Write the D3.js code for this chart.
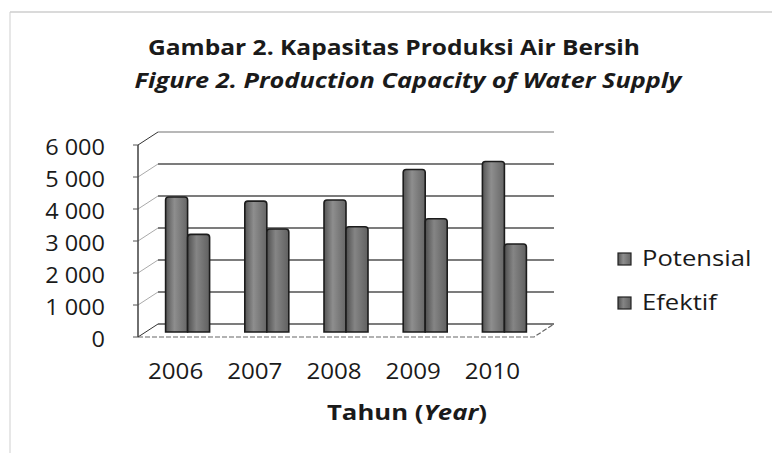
<!DOCTYPE html>
<html>
<head>
<meta charset="utf-8">
<script src="https://cdn.jsdelivr.net/npm/d3@7"></script>
<style>
  body { margin: 0; background: #fff; }
  svg text { font-family: "Open Sans", "Noto Sans", sans-serif; fill: #1a1a1a; }
</style>
</head>
<body>
<svg id="vis" width="772" height="453"></svg>
<script>
// data
const years = ["2006", "2007", "2008", "2009", "2010"];
const potensial = [4220, 4090, 4125, 5080, 5330];
const efektif = [3050, 3220, 3290, 3540, 2750];
const seriesNames = ["Potensial", "Efektif"];
const yTicks = [0, 1000, 2000, 3000, 4000, 5000, 6000];

const svg = d3.select("svg#vis");

// fake 3d: back wall is shifted from the front plane
const depth = {dx: 20, dy: -13};
const barShift = {dx: 10, dy: -5};

const y = d3.scaleLinear().domain([0, 6000]).range([337, 145]);
const x = d3.scaleBand().domain(years).range([138, 534]);
const xs = d3.scaleBand().domain(seriesNames).range([-22, 22]);

const fmt = d3.formatLocale({decimal: ",", thousands: " ", grouping: [3], currency: ["", ""]}).format(",");

// gradients for the bars
const defs = svg.append("defs");
const shades = {Potensial: ["#555", "#8e8e8e", "#666"], Efektif: ["#4f4f4f", "#858585", "#606060"]};
seriesNames.forEach(function(s) {
  const gr = defs.append("linearGradient").attr("id", "g" + s).attr("x1", 0).attr("x2", 1).attr("y1", 0).attr("y2", 0);
  gr.append("stop").attr("offset", "0%").attr("stop-color", shades[s][0]);
  gr.append("stop").attr("offset", "40%").attr("stop-color", shades[s][1]);
  gr.append("stop").attr("offset", "100%").attr("stop-color", shades[s][2]);
});

// chart frame (faint, like the scan)
svg.append("line").attr("x1", 10).attr("x2", 772).attr("y1", 12).attr("y2", 12)
  .attr("stroke", "#b5b5b5").attr("stroke-width", 1);
svg.append("line").attr("x1", 10).attr("x2", 10).attr("y1", 12).attr("y2", 453)
  .attr("stroke", "#cfcfcf").attr("stroke-width", 1);

// titles
svg.append("text").attr("x", 394).attr("y", 55).attr("text-anchor", "middle")
  .attr("font-size", 22).attr("font-weight", "bold")
  .attr("textLength", 492).attr("lengthAdjust", "spacingAndGlyphs")
  .text("Gambar 2. Kapasitas Produksi Air Bersih");
svg.append("text").attr("x", 408).attr("y", 88).attr("text-anchor", "middle")
  .attr("font-size", 22).attr("font-weight", "bold").attr("font-style", "italic")
  .attr("textLength", 547).attr("lengthAdjust", "spacingAndGlyphs")
  .text("Figure 2. Production Capacity of Water Supply");

const plot = svg.append("g");

// back wall gridlines
plot.selectAll("line.grid").data(yTicks).enter().append("line")
  .attr("class", "grid")
  .attr("x1", x.range()[0] + depth.dx).attr("x2", x.range()[1] + depth.dx)
  .attr("y1", d => y(d) + depth.dy).attr("y2", d => y(d) + depth.dy)
  .attr("stroke", d => d === 6000 ? "#a0a0a0" : "#505050")
  .attr("stroke-width", 1.3);

// side wall diagonals
plot.selectAll("line.side").data(yTicks).enter().append("line")
  .attr("class", "side")
  .attr("x1", x.range()[0]).attr("x2", x.range()[0] + depth.dx)
  .attr("y1", d => y(d)).attr("y2", d => y(d) + depth.dy)
  .attr("stroke", d => (d === 6000 || d === 0) ? "#333" : "#aaa")
  .attr("stroke-width", 1);

// floor front edge + right edge
plot.append("path")
  .attr("d", "M" + x.range()[0] + "," + y(0) + "H" + x.range()[1] + "L" + (x.range()[1] + depth.dx) + "," + (y(0) + depth.dy))
  .attr("fill", "none").attr("stroke", "#666").attr("stroke-width", 1.2).attr("stroke-dasharray", "5,2");

// y axis line + ticks
plot.append("line").attr("x1", 138).attr("x2", 138).attr("y1", y(0)).attr("y2", y(6000))
  .attr("stroke", "#333").attr("stroke-width", 1.4);
plot.selectAll("line.tick").data(yTicks).enter().append("line")
  .attr("x1", 133).attr("x2", 138).attr("y1", d => y(d)).attr("y2", d => y(d))
  .attr("stroke", "#555");

// y labels
plot.selectAll("text.ylab").data(yTicks).enter().append("text")
  .attr("class", "ylab")
  .attr("transform", d => "translate(105," + (y(d) + 4) + ") scale(1.12,1)")
  .attr("text-anchor", "end").attr("dominant-baseline", "middle")
  .attr("font-size", 21)
  .text(d => fmt(d));

// bars
const rows = years.map((yr, i) => ({year: yr, values: [
  {name: "Potensial", value: potensial[i]},
  {name: "Efektif", value: efektif[i]}
]}));

const grp = plot.selectAll("g.year").data(rows).enter().append("g")
  .attr("class", "year")
  .attr("transform", d => "translate(" + (x(d.year) + x.bandwidth() / 2 + barShift.dx) + "," + barShift.dy + ")");

grp.selectAll("path.bar").data(d => d.values).enter().append("path")
  .attr("class", "bar")
  .attr("d", function(d) {
    const x0 = xs(d.name), w = xs.bandwidth(), top = y(d.value), bot = y(0), r = 3;
    return "M" + x0 + "," + bot + "V" + (top + r) + "Q" + x0 + "," + top + " " + (x0 + r) + "," + top +
      "H" + (x0 + w - r) + "Q" + (x0 + w) + "," + top + " " + (x0 + w) + "," + (top + r) + "V" + bot + "Z";
  })
  .attr("fill", d => "url(#g" + d.name + ")")
  .attr("stroke", "#1c1c1c").attr("stroke-width", 1.6);

// x labels
plot.selectAll("text.xlab").data(years).enter().append("text")
  .attr("class", "xlab")
  .attr("transform", d => "translate(" + (x(d) + x.bandwidth() / 2 - 2) + ",379) scale(1.15,1)")
  .attr("text-anchor", "middle").attr("font-size", 21)
  .text(d => d);

// axis title
const at = svg.append("text").attr("x", 407).attr("y", 420).attr("text-anchor", "middle")
  .attr("font-size", 21).attr("font-weight", "bold")
  .attr("textLength", 160).attr("lengthAdjust", "spacingAndGlyphs");
at.append("tspan").text("Tahun (");
at.append("tspan").attr("font-style", "italic").text("Year");
at.append("tspan").text(")");

// legend
const leg = svg.append("g").attr("transform", "translate(618,253)");
const li = leg.selectAll("g").data(seriesNames).enter().append("g")
  .attr("transform", (d, i) => "translate(0," + i * 44 + ")");
li.append("rect").attr("width", 13).attr("height", 12)
  .attr("fill", d => "url(#g" + d + ")").attr("stroke", "#222").attr("stroke-width", 1.2);
li.append("text").attr("transform", "translate(24,12.5) scale(1.22,1)")
  .attr("font-size", 21).text(d => d);
</script>
</body>
</html>
